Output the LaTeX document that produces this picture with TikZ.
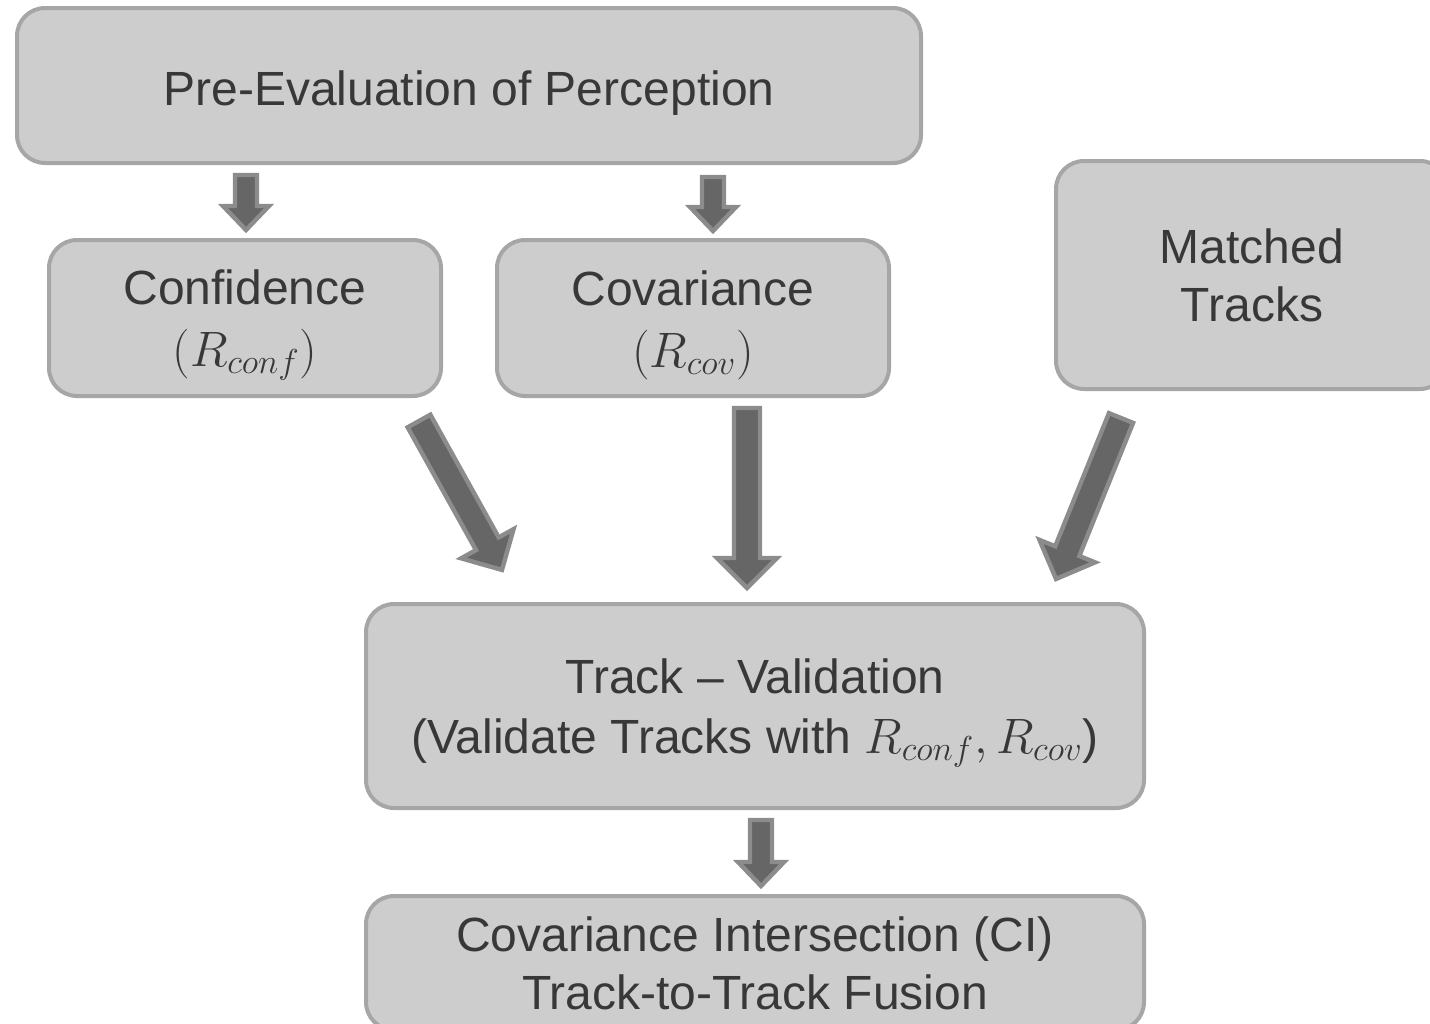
\documentclass[tikz,border=0pt]{standalone}
\usepackage{fontspec}
\setmainfont{Liberation Sans}
\usetikzlibrary{calc}

\definecolor{boxfill}{HTML}{CDCDCD}
\definecolor{boxline}{HTML}{A6A6A6}
\definecolor{txt}{HTML}{383838}
\definecolor{arrowfill}{HTML}{666666}
\definecolor{arrowline}{HTML}{8C8C8C}

% taller first line, to sit the text a little lower in its box
\newcommand\firstline{\rule{0pt}{24.5pt}}

% Fat block arrow from tail (#1) to tip (#2):
% #3 shaft half width, #4 head half width, #5 head length
\newcommand\blockarrow[5]{%
  \draw[arrowbody] let \p1=($(#2)-(#1)$), \n1={atan2(\y1,\x1)}, \n2={veclen(\x1,\y1)} in
    [shift={(#1)}, rotate=\n1]
    (0pt,-#3) -- (\n2-#5,-#3) -- (\n2-#5,-#4) -- (\n2,0pt) --
    (\n2-#5,#4) -- (\n2-#5,#3) -- (0pt,#3) -- cycle;
}

\begin{document}
\begin{tikzpicture}[x=0.5pt,y=-0.5pt,
  box/.style={draw=boxline, fill=boxfill, line width=2pt, rounded corners=14pt,
    text=txt, align=center, inner sep=0pt,
    font=\fontsize{24}{29}\selectfont},
  arrowbody/.style={draw=arrowline, fill=arrowfill, line width=2.2pt, line join=miter}]
\useasboundingbox (0,0) rectangle (1430,1023);
\clip (0,0) rectangle (1430,1023);

% boxes
\node[box, minimum width=452pt, minimum height=77.5pt] (pre) at (469,85.5)
  {\firstline Pre-Evaluation of Perception};
\node[box, minimum width=196pt, minimum height=78pt] (conf) at (245,318)
  {\firstline Confidence\\[2pt] $(R_{conf})$};
\node[box, minimum width=196pt, minimum height=78pt] (cov) at (693,318)
  {\firstline Covariance\\[2pt] $(R_{cov})$};
\node[box, minimum width=196pt, minimum height=114pt] (match) at (1252,275)
  {Matched\\Tracks};
\node[box, minimum width=389pt, minimum height=102pt] (valid) at (755,706)
  {\firstline Track -- Validation\\[1pt](Validate Tracks with $R_{conf}, R_{cov}$)};
\node[box, minimum width=389pt, minimum height=67pt] (ci) at (755,963)
  {Covariance Intersection (CI)\\Track-to-Track Fusion};

% arrow end points
\coordinate (a1s) at (246,175);  \coordinate (a1e) at (246,230);
\coordinate (a2s) at (713,177);  \coordinate (a2e) at (713,231);
\coordinate (a3s) at (419,421);  \coordinate (a3e) at (502,570);
\coordinate (a4s) at (747,408);  \coordinate (a4e) at (747,588);
\coordinate (a5s) at (1121,418); \coordinate (a5e) at (1056,579);
\coordinate (a6s) at (761,820);  \coordinate (a6e) at (761,886);

% arrows
\blockarrow{a1s}{a1e}{5.5pt}{11.5pt}{12pt}
\blockarrow{a2s}{a2e}{5.5pt}{11.5pt}{12pt}
\blockarrow{a3s}{a3e}{6.5pt}{15pt}{15pt}
\blockarrow{a4s}{a4e}{6.5pt}{15pt}{15pt}
\blockarrow{a5s}{a5e}{6.5pt}{15pt}{15pt}
\blockarrow{a6s}{a6e}{5.5pt}{11.5pt}{12pt}
\end{tikzpicture}
\end{document}
